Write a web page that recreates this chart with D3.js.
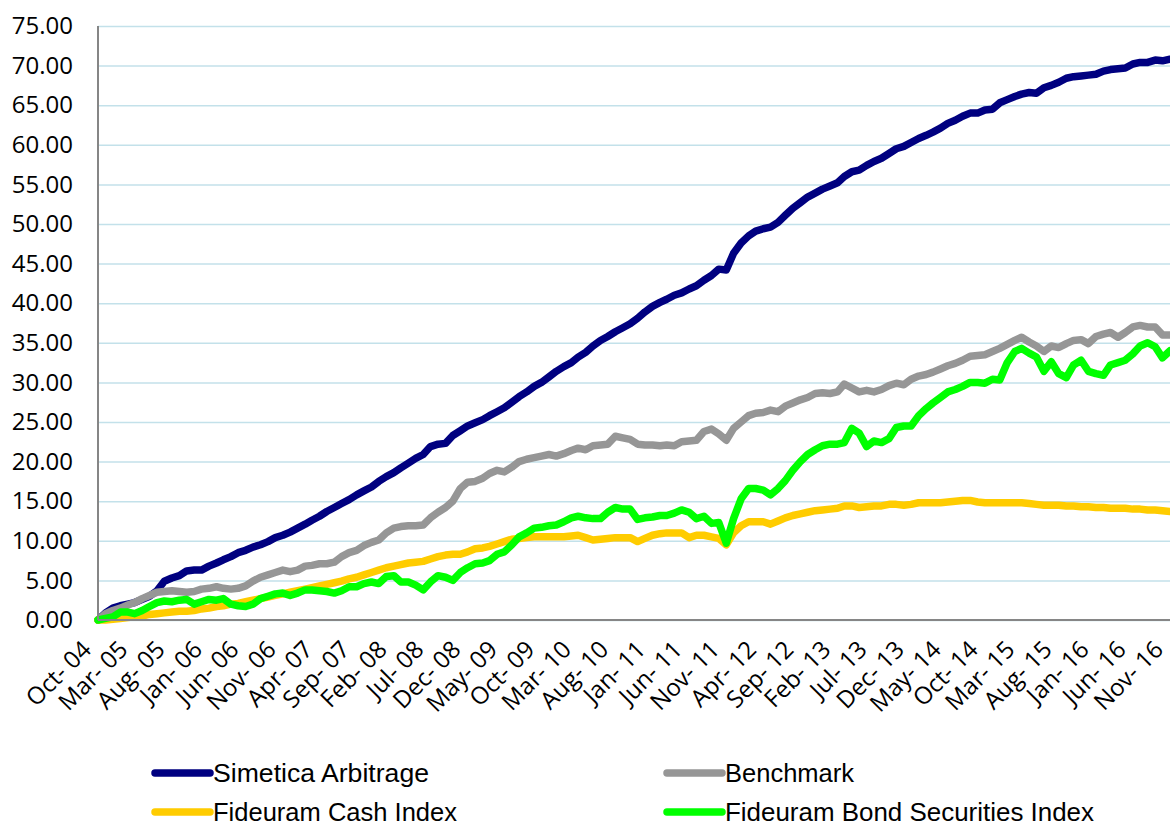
<!DOCTYPE html>
<html>
<head>
<meta charset="utf-8">
<script src="https://cdn.jsdelivr.net/npm/d3@7"></script>
<style>
  body { margin: 0; background: #fff; }
  svg { display: block; }
</style>
</head>
<body>
<svg width="1170" height="828"></svg>
<script>
// monthly series, Oct-04 .. Nov-16 (146 points)
const simetica = [
    0.0, 0.9, 1.5, 1.8, 2.0, 2.2, 2.6, 3.0, 3.7, 4.9,
    5.3, 5.6, 6.2, 6.3, 6.3, 6.8, 7.2, 7.6, 8.0, 8.5,
    8.8, 9.2, 9.5, 9.9, 10.4, 10.7, 11.1, 11.6, 12.1, 12.6,
    13.1, 13.7, 14.2, 14.7, 15.2, 15.8, 16.3, 16.8, 17.5, 18.1,
    18.6, 19.2, 19.8, 20.4, 20.9, 21.9, 22.2, 22.3, 23.3, 23.9,
    24.5, 24.9, 25.3, 25.8, 26.3, 26.8, 27.5, 28.2, 28.8, 29.5,
    30.0, 30.7, 31.4, 32.0, 32.5, 33.2, 33.8, 34.6, 35.3, 35.8,
    36.4, 36.9, 37.4, 38.1, 38.9, 39.6, 40.1, 40.5, 41.0, 41.3,
    41.8, 42.2, 42.9, 43.5, 44.3, 44.2, 46.3, 47.6, 48.5, 49.1,
    49.4, 49.6, 50.2, 51.1, 52.0, 52.7, 53.4, 53.9, 54.4, 54.8,
    55.2, 56.0, 56.6, 56.8, 57.4, 57.9, 58.3, 58.9, 59.5, 59.8,
    60.3, 60.8, 61.2, 61.6, 62.1, 62.7, 63.1, 63.6, 64.0, 64.0,
    64.4, 64.5, 65.3, 65.7, 66.1, 66.4, 66.6, 66.5, 67.2, 67.5,
    67.9, 68.4, 68.6, 68.7, 68.8, 68.9, 69.3, 69.5, 69.6, 69.7,
    70.2, 70.4, 70.4, 70.7, 70.6, 70.8
];
const benchmark = [
    0.0, 0.8, 1.2, 1.5, 1.9, 2.2, 2.7, 3.1, 3.5, 3.6,
    3.7, 3.6, 3.5, 3.6, 3.9, 4.0, 4.2, 4.0, 3.9, 4.0,
    4.3, 4.9, 5.4, 5.7, 6.0, 6.3, 6.1, 6.3, 6.8, 6.9,
    7.1, 7.1, 7.3, 8.0, 8.5, 8.8, 9.4, 9.8, 10.1, 11.0,
    11.6, 11.8, 11.9, 11.9, 12.0, 12.9, 13.6, 14.2, 15.0, 16.6,
    17.4, 17.5, 17.9, 18.5, 18.9, 18.7, 19.3, 20.0, 20.3, 20.5,
    20.7, 20.9, 20.7, 21.0, 21.4, 21.7, 21.5, 22.0, 22.1, 22.2,
    23.2, 23.0, 22.8, 22.2, 22.1, 22.1, 22.0, 22.1, 22.0, 22.5,
    22.6, 22.7, 23.8, 24.1, 23.5, 22.7, 24.2, 25.0, 25.8, 26.1,
    26.2, 26.5, 26.3, 27.0, 27.4, 27.8, 28.1, 28.6, 28.7, 28.6,
    28.8, 29.8, 29.3, 28.8, 29.0, 28.8, 29.1, 29.6, 29.9, 29.7,
    30.4, 30.8, 31.0, 31.3, 31.7, 32.1, 32.4, 32.8, 33.3, 33.4,
    33.5, 33.9, 34.3, 34.8, 35.3, 35.7, 35.1, 34.6, 33.9, 34.6,
    34.4, 34.9, 35.3, 35.4, 34.9, 35.8, 36.1, 36.3, 35.7, 36.3,
    37.0, 37.2, 37.0, 37.0, 36.0, 36.0
];
const cashIndex = [
    0.0, 0.0, 0.1, 0.2, 0.3, 0.4, 0.5, 0.7, 0.8, 0.9,
    1.0, 1.1, 1.1, 1.2, 1.4, 1.5, 1.7, 1.8, 2.0, 2.1,
    2.3, 2.5, 2.7, 2.9, 3.1, 3.3, 3.5, 3.7, 3.9, 4.1,
    4.3, 4.5, 4.7, 4.9, 5.2, 5.4, 5.7, 6.0, 6.3, 6.6,
    6.8, 7.0, 7.2, 7.3, 7.4, 7.7, 8.0, 8.2, 8.3, 8.3,
    8.6, 9.0, 9.1, 9.3, 9.6, 9.9, 10.2, 10.3, 10.4, 10.5,
    10.5, 10.5, 10.5, 10.5, 10.6, 10.7, 10.4, 10.1, 10.2, 10.3,
    10.4, 10.4, 10.4, 9.9, 10.3, 10.7, 10.9, 11.0, 11.0, 11.0,
    10.4, 10.7, 10.7, 10.5, 10.3, 9.5, 11.0, 11.9, 12.4, 12.4,
    12.4, 12.1, 12.5, 12.9, 13.2, 13.4, 13.6, 13.8, 13.9, 14.0,
    14.1, 14.4, 14.4, 14.2, 14.3, 14.4, 14.4, 14.6, 14.6, 14.5,
    14.6, 14.8, 14.8, 14.8, 14.8, 14.9, 15.0, 15.1, 15.1, 14.9,
    14.8, 14.8, 14.8, 14.8, 14.8, 14.8, 14.7, 14.6, 14.5, 14.5,
    14.5, 14.4, 14.4, 14.3, 14.3, 14.2, 14.2, 14.1, 14.1, 14.1,
    14.0, 14.0, 13.9, 13.9, 13.8, 13.7
];
const bondIndex = [
    0.0, 0.2, 0.4, 1.0, 1.0, 0.8, 1.2, 1.7, 2.2, 2.4,
    2.3, 2.5, 2.6, 2.0, 2.3, 2.6, 2.5, 2.7, 2.0, 1.8,
    1.7, 2.0, 2.7, 3.0, 3.3, 3.4, 3.1, 3.4, 3.8, 3.8,
    3.7, 3.6, 3.4, 3.7, 4.2, 4.2, 4.6, 4.8, 4.6, 5.5,
    5.6, 4.8, 4.8, 4.4, 3.8, 4.8, 5.6, 5.4, 5.0, 6.0,
    6.6, 7.1, 7.2, 7.5, 8.3, 8.6, 9.5, 10.5, 11.0, 11.6,
    11.7, 11.9, 12.0, 12.4, 12.9, 13.1, 12.9, 12.8, 12.8, 13.6,
    14.2, 14.0, 14.0, 12.7, 12.9, 13.0, 13.2, 13.2, 13.5, 13.9,
    13.6, 12.8, 13.1, 12.2, 12.3, 9.7, 12.8, 15.3, 16.6, 16.6,
    16.4, 15.8, 16.6, 17.6, 18.9, 20.0, 20.9, 21.5, 22.0, 22.2,
    22.2, 22.4, 24.2, 23.6, 21.9, 22.6, 22.4, 22.9, 24.3, 24.5,
    24.5, 25.8, 26.7, 27.4, 28.1, 28.8, 29.1, 29.5, 30.0, 30.0,
    29.9, 30.4, 30.3, 32.5, 33.9, 34.3, 33.7, 33.2, 31.4, 32.6,
    31.1, 30.6, 32.2, 32.8, 31.4, 31.1, 30.9, 32.2, 32.5, 32.8,
    33.6, 34.6, 35.0, 34.5, 33.1, 34.0
];

const tickLabels = [
    'Oct- 04', 'Mar- 05', 'Aug- 05', 'Jan- 06', 'Jun- 06', 'Nov- 06',
    'Apr- 07', 'Sep- 07', 'Feb- 08', 'Jul- 08', 'Dec- 08', 'May- 09',
    'Oct- 09', 'Mar- 10', 'Aug- 10', 'Jan- 11', 'Jun- 11', 'Nov- 11',
    'Apr- 12', 'Sep- 12', 'Feb- 13', 'Jul- 13', 'Dec- 13', 'May- 14',
    'Oct- 14', 'Mar- 15', 'Aug- 15', 'Jan- 16', 'Jun- 16', 'Nov- 16'
];
const seriesNames = ['Simetica Arbitrage', 'Benchmark', 'Fideuram Cash Index', 'Fideuram Bond Securities Index'];
const seriesColors = ['#000080', '#969696', '#ffcc00', '#00ff00'];
const yTicks = [0, 5, 10, 15, 20, 25, 30, 35, 40, 45, 50, 55, 60, 65, 70, 75];

const months = d3.timeMonth.range(new Date(2004, 9, 1), new Date(2016, 11, 1));
const tickDates = months.filter((d, i) => i % 5 === 0);

const plotLeft = 98, plotRight = 1170, plotTop = 26, plotBottom = 620;
const x = d3.scaleTime().domain([months[0], months[months.length - 1]]).range([plotLeft, plotRight]);
const y = d3.scaleLinear().domain([0, 75]).range([plotBottom, plotTop]);

const svg = d3.select('svg');

// gridlines
svg.append('g')
    .attr('transform', `translate(${plotLeft},0)`)
    .call(d3.axisLeft(y).tickValues(yTicks).tickSize(-(plotRight - plotLeft)).tickFormat(''))
    .call(g => g.select('.domain').remove())
    .selectAll('line').attr('stroke', '#c3e1ea').attr('stroke-width', 1.5);

// y axis labels
svg.append('g')
    .attr('transform', `translate(${plotLeft},0)`)
    .call(d3.axisLeft(y).tickValues(yTicks).tickSize(0).tickPadding(25).tickFormat(d3.format('.2f')))
    .call(g => g.select('.domain').remove())
    .selectAll('text')
    .attr('font-family', '"Open Sans", sans-serif')
    .attr('font-size', 24)
    .attr('fill', '#000');

// x axis
const xAxis = svg.append('g')
    .attr('transform', `translate(0,${plotBottom})`)
    .call(d3.axisBottom(x).tickValues(tickDates).tickSize(0).tickFormat((d, i) => tickLabels[i]));
xAxis.select('.domain').remove();
xAxis.selectAll('text')
    .attr('font-family', '"Open Sans", sans-serif')
    .attr('font-size', 24)
    .attr('fill', '#000')
    .attr('text-anchor', 'end')
    .attr('dy', 0)
    .attr('transform', 'translate(-8,29) rotate(-45)');

// series lines
const line = d3.line()
    .x((d, i) => x(months[i]))
    .y(d => y(d))
    .curve(d3.curveLinear);

const allSeries = [simetica, benchmark, cashIndex, bondIndex];
svg.append('g').selectAll('path')
    .data(allSeries)
    .enter()
    .append('path')
    .attr('d', line)
    .attr('fill', 'none')
    .attr('stroke', (d, i) => seriesColors[i])
    .attr('stroke-width', 7.5)
    .attr('stroke-linejoin', 'round')
    .attr('stroke-linecap', 'round');

// axis lines
svg.append('line')
    .attr('x1', plotLeft).attr('x2', plotLeft).attr('y1', plotTop).attr('y2', plotBottom)
    .attr('stroke', '#868686').attr('stroke-width', 2);
svg.append('line')
    .attr('x1', plotLeft).attr('x2', plotRight).attr('y1', plotBottom).attr('y2', plotBottom)
    .attr('stroke', '#868686').attr('stroke-width', 2);

// legend, 2 columns
const legendX = [155, 667];
const legendY = [773, 812];
const legendWidths = [216, 129, 244, 369];
const legend = svg.append('g').selectAll('g')
    .data(seriesNames)
    .enter()
    .append('g')
    .attr('transform', (d, i) => `translate(${legendX[i % 2]},${legendY[Math.floor(i / 2)]})`);
legend.append('line')
    .attr('x1', 0).attr('x2', 55).attr('y1', 0).attr('y2', 0)
    .attr('stroke', (d, i) => seriesColors[i])
    .attr('stroke-width', 7.5)
    .attr('stroke-linecap', 'round');
legend.append('text')
    .attr('x', 58)
    .attr('y', 9)
    .attr('font-family', '"Liberation Sans Narrow", "Liberation Sans", sans-serif')
    .attr('font-size', 25)
    .attr('textLength', (d, i) => legendWidths[i])
    .attr('lengthAdjust', 'spacingAndGlyphs')
    .text(d => d);
</script>
</body>
</html>
